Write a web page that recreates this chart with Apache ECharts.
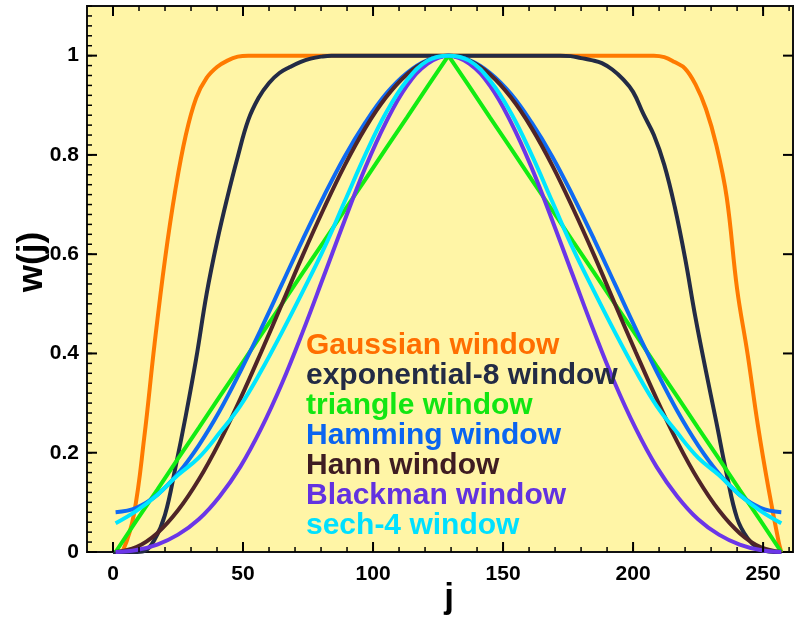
<!DOCTYPE html>
<html>
<head>
<meta charset="utf-8">
<title>Window functions w(j)</title>
<script src="https://cdn.jsdelivr.net/npm/echarts@6/dist/echarts.min.js"></script>
<style>
  html, body { margin: 0; padding: 0; background: #fff; }
  #chart { width: 794px; height: 620px; }
</style>
</head>
<body>
<div id="chart"></div>
<script>
// sample positions shared by the smooth windows
const jGrid = [1, 9, 17, 25, 33, 41, 49, 57, 65, 73, 81, 89, 97, 105, 113, 121, 129,
  137, 145, 153, 161, 169, 177, 185, 193, 201, 209, 217, 225, 233, 241, 249, 257]

const triangleW = [0, 0.063, 0.125, 0.188, 0.25, 0.313, 0.375, 0.438, 0.5, 0.563, 0.625, 0.688, 0.75, 0.813, 0.875, 0.938, 1,
  0.938, 0.875, 0.813, 0.75, 0.688, 0.625, 0.563, 0.5, 0.438, 0.375, 0.313, 0.25, 0.188, 0.125, 0.063, 0]
const hammingW = [0.08, 0.089, 0.115, 0.158, 0.215, 0.284, 0.364, 0.45, 0.54, 0.63, 0.716, 0.796, 0.865, 0.923, 0.965, 0.991, 1,
  0.991, 0.965, 0.923, 0.865, 0.796, 0.716, 0.63, 0.54, 0.45, 0.364, 0.284, 0.215, 0.158, 0.115, 0.089, 0.08]
const hannW = [0, 0.01, 0.038, 0.084, 0.146, 0.222, 0.309, 0.403, 0.5, 0.598, 0.691, 0.778, 0.854, 0.916, 0.962, 0.99, 1,
  0.99, 0.962, 0.916, 0.854, 0.778, 0.691, 0.598, 0.5, 0.403, 0.309, 0.222, 0.146, 0.084, 0.038, 0.01, 0]
const blackmanW = [0, 0.004, 0.015, 0.035, 0.066, 0.112, 0.172, 0.249, 0.34, 0.444, 0.555, 0.667, 0.774, 0.866, 0.939, 0.984, 1,
  0.984, 0.939, 0.866, 0.774, 0.667, 0.555, 0.444, 0.34, 0.249, 0.172, 0.112, 0.066, 0.035, 0.015, 0.004, 0]
const sech4W = [0.058, 0.083, 0.115, 0.155, 0.19, 0.24, 0.295, 0.365, 0.443, 0.525, 0.61, 0.705, 0.8, 0.885, 0.95, 0.99, 1,
  0.99, 0.95, 0.885, 0.8, 0.705, 0.61, 0.525, 0.443, 0.365, 0.295, 0.24, 0.19, 0.155, 0.115, 0.083, 0.058]

// flat-top windows, read more densely on the flanks
const gaussJ = [0, 2, 4, 8, 12, 16, 20, 24, 28, 32, 36, 40, 44, 48, 52,
  208, 212, 216, 220, 224, 228, 232, 236, 240, 244, 248, 252, 256, 257]
const gaussW = [0, 0, 0.005, 0.075, 0.23, 0.42, 0.59, 0.73, 0.84, 0.915, 0.955, 0.977, 0.99, 0.998, 1,
  1, 0.997, 0.987, 0.974, 0.942, 0.893, 0.82, 0.715, 0.53, 0.4, 0.255, 0.13, 0.02, 0]

const expJ = [0, 8, 12, 16, 20, 24, 28, 32, 36, 40, 44, 48, 52, 56, 60, 64, 68, 72, 76, 80, 84,
  172, 176, 180, 184, 188, 192, 196, 200, 204, 208, 212, 216, 220, 224, 228, 232, 236, 240, 244, 248, 252, 257]
const expW = [0, 0, 0.002, 0.025, 0.075, 0.17, 0.275, 0.39, 0.52, 0.625, 0.715, 0.797, 0.87, 0.915, 0.945, 0.965, 0.977, 0.987, 0.994, 0.998, 1,
  1, 0.999, 0.995, 0.991, 0.985, 0.972, 0.953, 0.927, 0.882, 0.84, 0.78, 0.696, 0.592, 0.472, 0.365, 0.262, 0.157, 0.068, 0.028, 0.008, 0.001, 0]

const seriesNames = ['Gaussian window', 'exponential-8 window', 'triangle window', 'Hamming window',
  'Hann window', 'Blackman window', 'sech-4 window']
const lineColors = ['#FF7A00', '#232B45', '#12EC12', '#0F6AF2', '#4F2428', '#6B36E8', '#00E6FF']
const textColors = ['#FF6E00', '#232B45', '#12E612', '#0A64F0', '#3E1C22', '#6232E0', '#00E0FF']

const xMajorTicks = [0, 50, 100, 150, 200, 250]
const xMinorTicks = [0, 10, 20, 30, 40, 50, 60, 70, 80, 90, 100, 110, 120, 130, 140, 150, 160,
  170, 180, 190, 200, 210, 220, 230, 240, 250, 260]
const yMajorTicks = [0, 0.2, 0.4, 0.6, 0.8, 1]
const yMinorTicks = []
for (let i = 0; i <= 55; i++) yMinorTicks.push(Math.round(i * 2) / 100)

const X_MIN = -10, X_MAX = 261.5, Y_MIN = 0, Y_MAX = 1.1
const FONT = '"Liberation Sans", Arial, sans-serif'
const labelFont = { color: '#000', fontSize: 21, fontWeight: 'bold', fontFamily: FONT }

const pairs = (xs, ys) => xs.map((x, i) => [x, ys[i]])
const curves = [
  pairs(gaussJ, gaussW),
  pairs(expJ, expW),
  pairs(jGrid, triangleW),
  pairs(jGrid, hammingW),
  pairs(jGrid, hannW),
  pairs(jGrid, blackmanW),
  pairs(jGrid, sech4W)
]

const chart = echarts.init(document.getElementById('chart'))

chart.setOption({
  animation: false,
  grid: {
    left: 87, right: 1, top: 6, bottom: 68,
    outerBoundsMode: 'none',
    show: true,
    z: -10,
    backgroundColor: '#FFF5A6',
    borderColor: '#111',
    borderWidth: 2
  },
  legend: {
    orient: 'vertical',
    left: 300,
    top: 331,
    padding: 0,
    itemGap: 0,
    itemWidth: 0,
    itemHeight: 0,
    selectedMode: false,
    textStyle: { fontSize: 30, lineHeight: 30, fontWeight: 'bold', fontFamily: FONT },
    data: seriesNames.map((name, i) => ({ name, textStyle: { color: textColors[i] } }))
  },
  xAxis: {
    type: 'value', min: X_MIN, max: X_MAX, position: 'bottom',
    splitLine: { show: false },
    axisLine: { show: false, onZero: false },
    axisTick: { show: false },
    axisLabel: { customValues: xMajorTicks, margin: 12, ...labelFont }
  },
  yAxis: {
    type: 'value', min: Y_MIN, max: Y_MAX, position: 'left',
    splitLine: { show: false },
    axisLine: { show: false, onZero: false },
    axisTick: { show: false },
    axisLabel: { customValues: yMajorTicks, margin: 8, ...labelFont }
  },
  series: seriesNames.map((name, i) => ({
    name,
    type: 'line',
    data: curves[i],
    showSymbol: false,
    smooth: name === 'triangle window' ? false : 0.4,
    color: lineColors[i],
    lineStyle: { width: 4, color: lineColors[i] }
  }))
})

// inward ticks on all four sides, placed through the chart's own scales
const toPx = (x, y) => chart.convertToPixel({ gridIndex: 0 }, [x, y])
const [xL, yB] = toPx(X_MIN, Y_MIN)
const [xR, yT] = toPx(X_MAX, Y_MAX)
const tick = (x1, y1, x2, y2, w) => ({
  type: 'line', silent: true, z: 100,
  shape: { x1, y1, x2, y2 },
  style: { stroke: '#000', lineWidth: w }
})
const ticks = []
xMinorTicks.forEach(v => {
  const px = toPx(v, 0)[0]
  ticks.push(tick(px, yB, px, yB - 5, 1.5), tick(px, yT, px, yT + 5, 1.5))
})
xMajorTicks.forEach(v => {
  const px = toPx(v, 0)[0]
  ticks.push(tick(px, yB, px, yB - 10, 2), tick(px, yT, px, yT + 10, 2))
})
yMinorTicks.forEach(v => {
  const py = toPx(0, v)[1]
  ticks.push(tick(xL, py, xL + 5, py, 1.5))
})
yMajorTicks.forEach(v => {
  const py = toPx(0, v)[1]
  ticks.push(tick(xL, py, xL + 10, py, 2), tick(xR, py, xR - 10, py, 2))
})

const titleFont = 'bold 35px "Liberation Sans", Arial, sans-serif'
chart.setOption({
  graphic: [
    {
      type: 'text', x: 32, y: 262, rotation: Math.PI / 2, z: 100,
      style: { text: 'w(j)', fill: '#000', font: titleFont, align: 'center', verticalAlign: 'middle' }
    },
    {
      type: 'text', x: 449, y: 598, z: 100,
      style: { text: 'j', fill: '#000', font: titleFont, align: 'center', verticalAlign: 'middle' }
    },
    ...ticks
  ]
})
</script>
</body>
</html>
